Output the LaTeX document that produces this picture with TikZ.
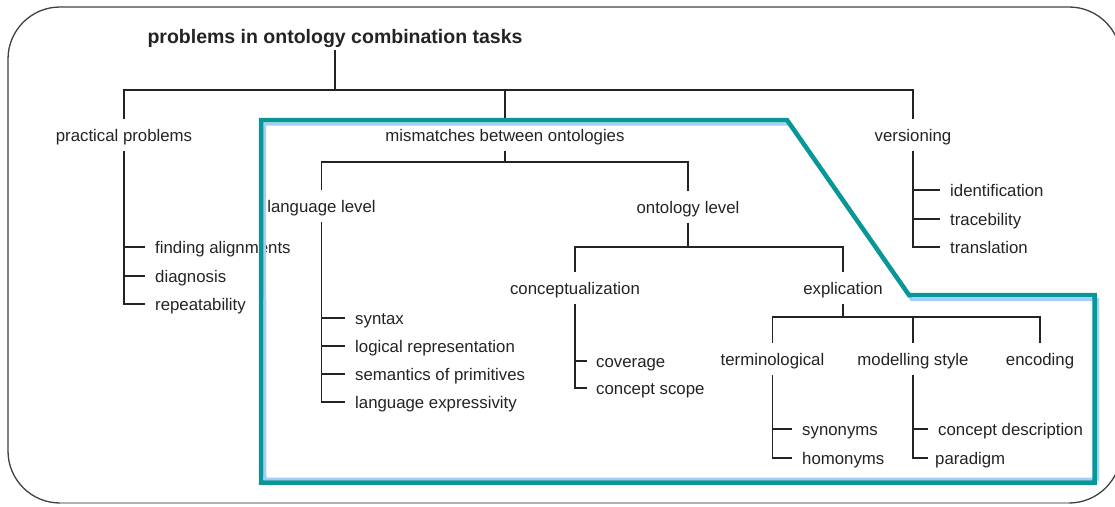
\documentclass[tikz,border=0pt]{standalone}
\usepackage{fontspec}
\setmainfont{Liberation Sans}
\definecolor{frameteal}{RGB}{8,150,150}
\definecolor{framesky}{RGB}{165,205,250}
\definecolor{ink}{RGB}{35,35,35}
\begin{document}
\begin{tikzpicture}[x=1pt,y=-1pt,
  lbl/.style={text=ink, font=\fontsize{16.8}{20}\selectfont, inner xsep=1pt, inner ysep=8pt,
              text height=14pt, text depth=1.5pt},
  titlelbl/.style={lbl, font=\bfseries\fontsize{19.5}{23}\selectfont, inner ysep=4pt,
              text height=15pt, text depth=3pt},
  leaf/.style={lbl, anchor=west, inner xsep=10pt, inner ysep=0pt},
  tree/.style={draw=ink, line width=1.4pt},
  outer/.style={draw=black!75, line width=1.3pt},
  region/.style={draw=frameteal, line width=4.5pt, line join=miter},
  regionglow/.style={draw=framesky, line width=3pt, line join=miter},
]
\useasboundingbox (0,0) rectangle (1115,506);

% outer rounded frame
\draw[outer, rounded corners=52pt] (8,7) rectangle (1121,503);
\draw[black!30, line width=1.3pt] (60,503) -- (1069,503);

% labels
\node[titlelbl] (root) at (335,37) {problems in ontology combination tasks};
\node[lbl] (pp) at (124,135) {practical problems};
\node[lbl] (mm) at (505,135) {mismatches between ontologies};
\node[lbl] (vs) at (913,135) {versioning};
\node[lbl] (ll) at (321.5,206) {language level};
\node[lbl] (ol) at (688,207) {ontology level};
\node[lbl] (cz) at (575,288) {conceptualization};
\node[lbl] (ex) at (843,288) {explication};
\node[lbl] (tm) at (772.5,359) {terminological};
\node[lbl] (ms) at (913,359) {modelling style};
\node[lbl] (en) at (1040,359) {encoding};

% leaves
\node[leaf] (pp1) at (145,247) {finding alignments};
\node[leaf] (pp2) at (145,276) {diagnosis};
\node[leaf] (pp3) at (145,304) {repeatability};
\node[leaf] (vs1) at (940,190) {identification};
\node[leaf] (vs2) at (940,219) {tracebility};
\node[leaf] (vs3) at (940,247) {translation};
\node[leaf] (ll1) at (345,318) {syntax};
\node[leaf] (ll2) at (345,346) {logical representation};
\node[leaf] (ll3) at (345,374) {semantics of primitives};
\node[leaf] (ll4) at (345,402) {language expressivity};
\node[leaf, inner xsep=9pt] (cz1) at (587,361) {coverage};
\node[leaf, inner xsep=9pt] (cz2) at (587,388) {concept scope};
\node[leaf] (tm1) at (792,429) {synonyms};
\node[leaf] (tm2) at (792,458) {homonyms};
\node[leaf] (ms1) at (928,429) {concept description};
\node[leaf, inner xsep=7pt] (ms2) at (928,458) {paradigm};

% bus junctions
\coordinate (b1) at (335,90);
\coordinate (b2) at (505,162);
\coordinate (b3) at (688,247);
\coordinate (b4) at (843,317);

% hierarchy
\draw[tree] (root) -- (b1);
\draw[tree] (pp) |- (b1 -| vs) -- (vs);
\draw[tree] (mm) -- (mm |- b1);
\draw[tree] (mm) -- (b2);
\draw[tree] (ll) |- (b2 -| ol) -- (ol);
\draw[tree] (ol) -- (b3);
\draw[tree] (cz) |- (b3 -| ex) -- (ex);
\draw[tree] (ex) -- (b4);
\draw[tree] (tm) |- (b4 -| en) -- (en);
\draw[tree] (ms) -- (ms |- b4);

% leaf trunks and ticks
\draw[tree] (pp) |- (pp3);
\draw[tree] (pp |- pp1) -- (pp1);
\draw[tree] (pp |- pp2) -- (pp2);
\draw[tree] (vs) |- (vs3);
\draw[tree] (vs |- vs1) -- (vs1);
\draw[tree] (vs |- vs2) -- (vs2);
\draw[tree] (ll) |- (ll4);
\draw[tree] (ll |- ll1) -- (ll1);
\draw[tree] (ll |- ll2) -- (ll2);
\draw[tree] (ll |- ll3) -- (ll3);
\draw[tree] (cz) |- (cz2);
\draw[tree] (cz |- cz1) -- (cz1);
\draw[tree] (tm) |- (tm2);
\draw[tree] (tm |- tm1) -- (tm1);
\draw[tree] (ms) |- (ms2);
\draw[tree] (ms |- ms1) -- (ms1);

% highlighted region: mismatches between ontologies
\draw[regionglow] (264.5,124) -- (790.5,124) -- (911.5,299.5) -- (1097.5,299.5)
  -- (1097.5,479) -- (265,479) -- cycle;
\draw[region] (261,120) -- (787,120) -- (909,295) -- (1094.5,295)
  -- (1094.5,482.5) -- (261,482.5) -- cycle;
\end{tikzpicture}
\end{document}
